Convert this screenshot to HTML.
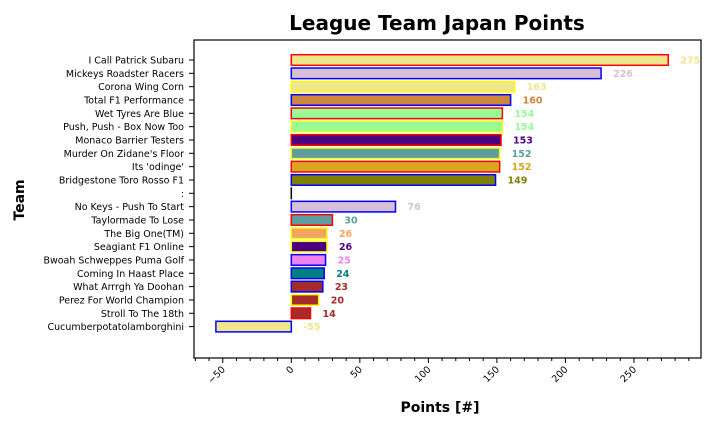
<!DOCTYPE html>
<html><head><meta charset="utf-8"><style>
html,body{margin:0;padding:0;background:#fff;}
svg{display:block;font-family:"DejaVu Sans","Liberation Sans",sans-serif;}
</style></head><body>
<svg id="chart" width="720" height="427" viewBox="0 0 720 427">
<text x="437" y="30" text-anchor="middle" font-size="20" font-weight="bold">League Team Japan Points</text>
<text x="440" y="412" text-anchor="middle" font-size="14" font-weight="bold">Points [#]</text>
<text transform="translate(24,200) rotate(-90)" text-anchor="middle" font-size="14" font-weight="bold">Team</text>
<g id="plot"></g>
<rect x="194" y="40" width="507" height="318" fill="none" stroke="#000" stroke-width="1.2"/>
</svg>
<script>
const teams=["I Call Patrick Subaru","Mickeys Roadster Racers","Corona Wing Corn","Total F1 Performance","Wet Tyres Are Blue","Push, Push - Box Now Too","Monaco Barrier Testers","Murder On Zidane's Floor","Its 'odinge'","Bridgestone Toro Rosso F1",":","No Keys - Push To Start","Taylormade To Lose","The Big One(TM)","Seagiant F1 Online","Bwoah Schweppes Puma Golf","Coming In Haast Place","What Arrrgh Ya Doohan","Perez For World Champion","Stroll To The 18th","Cucumberpotatolamborghini"];
const points=[275,226,163,160,154,154,153,152,152,149,0,76,30,26,26,25,24,23,20,14,-55];
const fills=["#f0e68c","#d8bfd8","#f0e68c","#cd853f","#98fb98","#98fb98","#4b0082","#5f9ea0","#daa520","#808000","#000000","#d8bfd8","#5f9ea0","#f4a460","#4b0082","#ee82ee","#008080","#a52a2a","#a52a2a","#a52a2a","#f0e68c"];
const edges=["red","blue","yellow","blue","red","yellow","red","yellow","red","blue","black","blue","red","yellow","yellow","blue","blue","blue","yellow","red","blue"];
const xTicks=[-50,0,50,100,150,200,250];
const ns="http://www.w3.org/2000/svg";
const g=document.getElementById("plot");
const x=v=>291.3+v*1.3707;
const y=i=>60+i*13.33;
function mk(t,a){const e=document.createElementNS(ns,t);for(const k in a)e.setAttribute(k,a[k]);g.appendChild(e);return e;}
points.forEach((v,i)=>{
  const x0=Math.min(x(0),x(v)),w=Math.abs(x(v)-x(0));
  const r=mk("rect",{x:x0,y:y(i)-5.3,width:Math.max(w,0.01),height:10.6,fill:fills[i],stroke:edges[i],"stroke-width":1.5});
  
  
  const tk=mk("line",{x1:189,x2:194,y1:y(i),y2:y(i),stroke:"#000"});
  
  
  const lb=mk("text",{x:184,y:y(i)+3.5,"text-anchor":"end","font-size":9.5});
  lb.textContent=teams[i];
  
  
  if(teams[i]!==":"){
    const vl=mk("text",{x:x(Math.max(v,0))+12,y:y(i)+3.5,"font-size":9.5,"font-weight":"bold",fill:fills[i]});
    vl.textContent=v;
    
    
  }
});
for(let v=-70;v<=290;v+=10){
  const major=v%50===0;
  const t=mk("line",{x1:x(v),x2:x(v),y1:358,y2:major?363:361,stroke:"#000"});
  
  
}
xTicks.forEach(v=>{
  const t=mk("text",{transform:`translate(${x(v)+3},370) rotate(-45)`,"text-anchor":"end","font-size":9.5});
  t.textContent=v<0?"\u2212"+(-v):v;
  
  
});
</script>
</body></html>
